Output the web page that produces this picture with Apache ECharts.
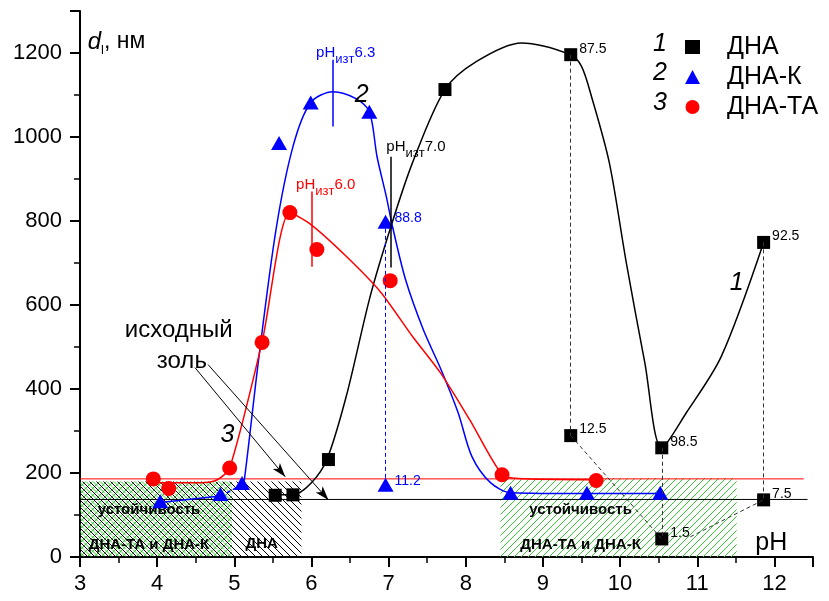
<!DOCTYPE html>
<html><head><meta charset="utf-8">
<script src="https://cdn.jsdelivr.net/npm/echarts@6/dist/echarts.min.js"></script>
<style>html,body{margin:0;padding:0;background:#fff}#c{width:829px;height:601px}</style>
</head><body><div id="c"></div>
<script>
// ---------- data ----------
// series 1: ДНА (black squares)
const phDNA  = [5.53, 5.76, 6.22, 7.73, 9.36, 9.36, 10.54, 10.54, 11.86, 11.86];
const dDNA   = [147, 148, 232, 1113, 1196, 289, 260, 43, 749, 136];
const lblDNA = ['', '', '', '', '87.5', '12.5', '98.5', '1.5', '92.5', '7.5'];
// series 2: ДНА-К (blue triangles)
const phDNAK  = [4.04, 4.82, 5.10, 5.58, 5.99, 6.75, 6.96, 6.96, 8.58, 9.57, 10.52];
const dDNAK   = [133, 150, 176, 986, 1082, 1060, 798, 172, 153, 153, 153];
const lblDNAK = ['', '', '', '', '', '', '88.8', '11.2', '', '', ''];
// series 3: ДНА-ТА (red circles)
const phDNATA = [3.95, 4.15, 4.94, 5.36, 5.72, 6.07, 7.02, 8.47, 9.69];
const dDNATA  = [186, 163, 212, 511, 820, 732, 658, 196, 182];

// fitted curves
const c1X = [5.53, 5.76, 6.00, 6.20, 6.45, 6.76, 7.03, 7.31, 7.73, 8.14, 8.72, 9.36, 9.50, 9.63, 9.86, 10.08, 10.32, 10.54, 10.86, 11.31, 11.86];
const c1Y = [148, 148, 177, 232, 382, 620, 787, 939, 1113, 1180, 1224, 1196, 1168, 1096, 939, 701, 463, 260, 344, 477, 749];
const c2aX = [4.04, 4.82];
const c2aY = [130, 145];
const c2dX = [4.82, 5.10];
const c2dY = [145, 172];
const c2X = [5.10, 5.13, 5.31, 5.54, 5.76, 5.99, 6.28, 6.57, 6.75, 6.85, 6.97, 7.05, 7.22, 7.45, 7.68, 7.90, 8.08, 8.32, 8.59, 9.56, 10.52];
const c2Y = [172, 184, 463, 779, 977, 1082, 1108, 1092, 1060, 953, 858, 787, 660, 541, 446, 344, 239, 177, 153, 151, 151];
const c3X = [3.95, 4.04, 4.56, 4.78, 4.94, 5.36, 5.72, 5.99, 6.45, 6.90, 7.31, 7.67, 8.05, 8.47, 8.68, 9.68];
const c3Y = [186, 177, 177, 184, 212, 512, 820, 792, 716, 630, 525, 439, 327, 196, 187, 184];

// initial sol levels (horizontal lines)
const solRedY = 186, solRedX = [3, 12.38];
const solBlackY = 137, solBlackX = [3, 12.43];

// stability zones
const zoneX0 = [3, 4.97, 8.45];
const zoneX1 = [4.97, 5.87, 11.51];
const zoneTop = [180, 180, 188];
const zoneText = ['устойчивость\nДНА-ТА и ДНА-К', 'ДНА', 'устойчивость\nДНА-ТА и ДНА-К'];

// axis ticks
const xMin = 3, xMax = 12.5, xStep = 1;
const yMin = 0, yMax = 1300, yStep = 200;

// ---------- chart ----------
const FF = '"Liberation Sans", Arial, Helvetica, sans-serif';
const BLUE = '#0000ff', RED = '#ff0000', GREEN = '#33cc33';

function hatch(size, specs) {
  const c = document.createElement('canvas');
  c.width = size; c.height = size;
  const g = c.getContext('2d');
  specs.forEach(s => {
    g.strokeStyle = s.color; g.lineWidth = s.width || 1;
    for (let k = -2; k <= 3; k++) {
      const o = k * size + (s.offset || 0);
      g.beginPath();
      if (s.dir === '\\') { g.moveTo(0, o); g.lineTo(size, o + size); }
      else { g.moveTo(0, o); g.lineTo(size, o - size); }
      g.stroke();
    }
  });
  return { image: c, repeat: 'repeat' };
}
const pats = [
  hatch(7, [{dir:'/', color:GREEN}, {dir:'\\', color:GREEN, offset:3.5}, {dir:'\\', color:'#000'}]),
  hatch(7, [{dir:'\\', color:'#000'}]),
  hatch(7, [{dir:'/', color:GREEN}])
];
const zoneOffsets = [[-7, 8], [-5, 25], [-38, 10]];

const zip = (xs, ys) => xs.map((x, i) => [x, ys[i]]);
function pts(xs, ys, lbls, lblStyle) {
  return xs.map((x, i) => ({
    value: [x, ys[i]],
    label: lbls && lbls[i] ? Object.assign({show: true, formatter: lbls[i]}, lblStyle) : {show: false}
  }));
}
const seg = (a, b, style) => [Object.assign({coord: a}, style ? {lineStyle: style} : {}), Object.assign({coord: b}, style ? {lineStyle: style} : {})];

const chart = echarts.init(document.getElementById('c'), null, {renderer: 'canvas'});

const option = {
  animation: false,
  backgroundColor: '#fff',
  textStyle: {fontFamily: FF},
  grid: {left: 80, right: 16, top: 11, bottom: 44, containLabel: false},
  legend: {
    data: ['ДНА', 'ДНА-К', 'ДНА-ТА'], orient: 'vertical', left: 680, top: 29,
    itemWidth: 15, itemHeight: 14, itemGap: 4, selectedMode: false,
    textStyle: {fontSize: 25, color: '#000', fontFamily: FF, lineHeight: 26, padding: [0, 0, 0, 22]}
  },
  xAxis: {
    type: 'value', min: xMin, max: xMax, interval: xStep,
    axisLine: {onZero: false, lineStyle: {color: '#000', width: 2}},
    axisTick: {length: 10, lineStyle: {color: '#000', width: 2}},
    minorTick: {show: true, splitNumber: 2, length: 6, lineStyle: {color: '#000', width: 1.5}},
    axisLabel: {color: '#000', fontSize: 22, margin: 16, fontFamily: FF, showMaxLabel: false, formatter: v => String(v)},
    splitLine: {show: false}
  },
  yAxis: {
    type: 'value', min: yMin, max: yMax, interval: yStep,
    axisLine: {onZero: false, lineStyle: {color: '#000', width: 2}},
    axisTick: {length: 10, lineStyle: {color: '#000', width: 2}},
    minorTick: {show: true, splitNumber: 2, length: 6, lineStyle: {color: '#000', width: 1.5}},
    axisLabel: {color: '#000', fontSize: 22, margin: 18, fontFamily: FF, showMaxLabel: false, formatter: v => String(v)},
    splitLine: {show: false}
  },
  series: [
    { // black initial-sol line + zones + arrows
      name: 'исходный золь', type: 'line', z: 1, symbol: 'none',
      data: zip(solBlackX, [solBlackY, solBlackY]),
      lineStyle: {color: '#000', width: 1},
      markArea: {
        silent: true,
        data: zoneX0.map((x0, i) => [
          {name: zoneText[i], xAxis: x0, yAxis: 0, itemStyle: {color: pats[i]},
           label: {show: true, position: 'inside', color: '#000', fontWeight: 'bold', fontSize: 15, lineHeight: 35, fontFamily: FF, offset: zoneOffsets[i]}},
          {xAxis: zoneX1[i], yAxis: zoneTop[i]}
        ])
      },
      markLine: {
        silent: true, symbol: ['none', 'arrow'], symbolSize: [7, 14],
        label: {show: false}, lineStyle: {color: '#000', width: 1, type: 'solid'},
        data: [seg([4.49, 451], [5.66, 191]), seg([4.66, 458], [6.22, 136])]
      }
    },
    { name: 'red sol', type: 'line', z: 2, symbol: 'none', data: zip(solRedX, [solRedY, solRedY]), lineStyle: {color: RED, width: 1} },
    { name: 'c1', type: 'line', z: 2, symbol: 'none', smooth: 0.3, data: zip(c1X, c1Y), lineStyle: {color: '#000', width: 1.5} },
    { name: 'c2a', type: 'line', z: 2, symbol: 'none', data: zip(c2aX, c2aY), lineStyle: {color: BLUE, width: 1.5} },
    { name: 'c2d', type: 'line', z: 2, symbol: 'none', data: zip(c2dX, c2dY), lineStyle: {color: BLUE, width: 1.5, type: [4, 3]} },
    { name: 'c2', type: 'line', z: 2, symbol: 'none', smooth: 0.3, data: zip(c2X, c2Y), lineStyle: {color: BLUE, width: 1.5} },
    { name: 'c3', type: 'line', z: 2, symbol: 'none', smooth: 0.25, data: zip(c3X, c3Y), lineStyle: {color: RED, width: 1.5} },
    {
      name: 'ДНА', type: 'scatter', z: 4, symbol: 'rect', symbolSize: 13,
      itemStyle: {color: '#000', opacity: 1},
      data: pts(phDNA, dDNA, lblDNA, {position: 'right', distance: 2, offset: [0, -6], color: '#000', fontSize: 14, fontFamily: FF}),
      markLine: {
        silent: true, symbol: ['none', 'none'], label: {show: false},
        lineStyle: {color: '#333', width: 1, type: [4, 3]},
        data: [
          seg([9.36, 1196], [9.36, 289]), seg([9.36, 289], [10.54, 43]),
          seg([10.54, 260], [10.54, 43]), seg([10.91, 48], [11.86, 136]),
          seg([11.86, 749], [11.86, 136]),
          seg([7.03, 953], [7.03, 689], {type: 'solid', color: '#000', width: 1.5})
        ]
      }
    },
    {
      name: 'ДНА-К', type: 'scatter', z: 4, symbol: 'triangle', symbolSize: [16, 14],
      itemStyle: {color: BLUE, opacity: 1},
      data: pts(phDNAK, dDNAK, lblDNAK, {position: 'right', distance: 1, offset: [0, -4], color: BLUE, fontSize: 14, fontFamily: FF}),
      markLine: {
        silent: true, symbol: ['none', 'none'], label: {show: false},
        lineStyle: {color: BLUE, width: 1, type: [4, 3]},
        data: [
          seg([6.96, 798], [6.96, 172]),
          seg([6.28, 1184], [6.28, 1025], {type: 'solid', color: BLUE, width: 1.5})
        ]
      }
    },
    {
      name: 'ДНА-ТА', type: 'scatter', z: 4, symbol: 'circle', symbolSize: 15,
      itemStyle: {color: RED, opacity: 1},
      data: pts(phDNATA, dDNATA, null, null),
      markLine: {
        silent: true, symbol: ['none', 'none'], label: {show: false},
        lineStyle: {color: RED, width: 1.5, type: 'solid'},
        data: [seg([6.01, 870], [6.01, 691])]
      }
    }
  ]
};
chart.setOption(option);

// ---------- text annotations anchored in data coordinates ----------
const sub = (c) => ({
  a: {fontSize: 15, lineHeight: 26, fill: c, fontFamily: FF},
  s: {fontSize: 13, verticalAlign: 'bottom', fill: c, fontFamily: FF}
});
const notes = [
  {x: 6.06, y: 1201, text: '{a|pH}{s|изт}{a|6.3}', rich: sub(BLUE)},
  {x: 6.97, y: 977,  text: '{a|pH}{s|изт}{a|7.0}', rich: sub('#000')},
  {x: 5.80, y: 886,  text: '{a|pH}{s|изт}{a|6.0}', rich: sub(RED)},
  {x: 3.10, y: 1226, text: '{d|d}{s|l}{a|, нм}', rich: {
      d: {fontSize: 24, fontStyle: 'italic', lineHeight: 30, fill: '#000', fontFamily: FF},
      s: {fontSize: 13, verticalAlign: 'bottom', fill: '#000', fontFamily: FF},
      a: {fontSize: 23, lineHeight: 30, fill: '#000', fontFamily: FF}}},
  {x: 4.28, y: 539, text: 'исходный', align: 'center', font: '24px ' + FF},
  {x: 4.32, y: 465, text: 'золь', align: 'center', font: '24px ' + FF},
  {x: 4.91, y: 291, text: '3', align: 'center', font: 'italic 25px ' + FF},
  {x: 6.65, y: 1101, text: '2', align: 'center', font: 'italic 25px ' + FF},
  {x: 11.51, y: 653, text: '1', align: 'center', font: 'italic 25px ' + FF},
  {x: 11.96, y: 34, text: 'pH', align: 'center', font: '25px ' + FF}
];
const graphics = notes.map(n => {
  const p = chart.convertToPixel({gridIndex: 0}, [n.x, n.y]);
  const style = {text: n.text, fill: '#000', align: n.align || 'left', verticalAlign: 'middle',
                 textAlign: n.align || 'left', textVerticalAlign: 'middle'};
  if (n.rich) style.rich = n.rich; else style.font = n.font;
  return {type: 'text', x: p[0], y: p[1], z: 10, silent: true, style: style};
});
// legend numbers
['1', '2', '3'].forEach((t, i) => {
  graphics.push({type: 'text', x: 660, y: 44 + i * 29.5, z: 10, silent: true,
    style: {text: t, font: 'italic 25px ' + FF, fill: '#000', align: 'center', verticalAlign: 'middle', textAlign: 'center', textVerticalAlign: 'middle'}});
});
chart.setOption({graphic: graphics});
</script>
</body></html>
